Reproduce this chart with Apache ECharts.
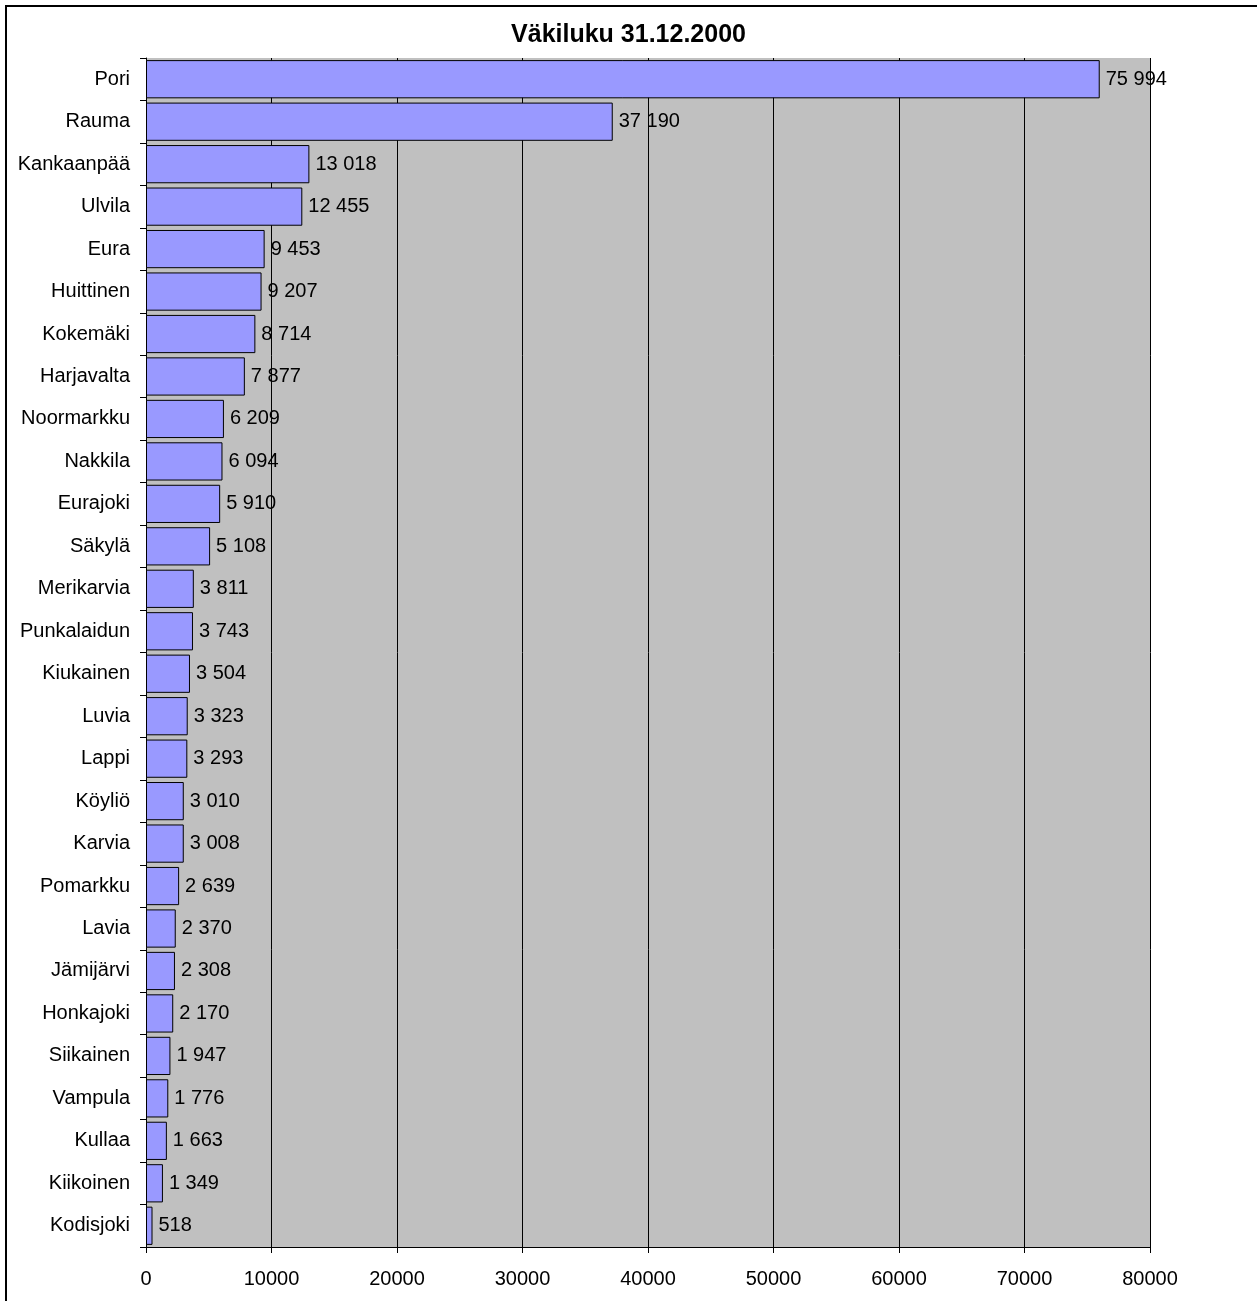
<!DOCTYPE html>
<html><head><meta charset="utf-8">
<script src="https://cdn.jsdelivr.net/npm/echarts@6/dist/echarts.min.js"></script>
<style>html,body{margin:0;padding:0;background:#fff}#c{width:1257px;height:1301px}</style>
</head><body><div id="c"></div>
<script>
const categories = ["Pori","Rauma","Kankaanpää","Ulvila","Eura","Huittinen","Kokemäki","Harjavalta","Noormarkku","Nakkila","Eurajoki","Säkylä","Merikarvia","Punkalaidun","Kiukainen","Luvia","Lappi","Köyliö","Karvia","Pomarkku","Lavia","Jämijärvi","Honkajoki","Siikainen","Vampula","Kullaa","Kiikoinen","Kodisjoki"];
const values = [75994,37190,13018,12455,9453,9207,8714,7877,6209,6094,5910,5108,3811,3743,3504,3323,3293,3010,3008,2639,2370,2308,2170,1947,1776,1663,1349,518];
const xTicks = [0,10000,20000,30000,40000,50000,60000,70000,80000];
const titleText = "Väkiluku 31.12.2000";

const chart = echarts.init(document.getElementById('c'), null, {renderer:'canvas'});
const fmt = v => String(v).replace(/\B(?=(\d{3})+(?!\d))/g, ' ');
const FF = 'Liberation Sans, Arial, sans-serif';
chart.setOption({
  animation:false,
  textStyle:{fontFamily:FF},
  title:{text:titleText,left:'center',top:18,textStyle:{fontSize:25,fontWeight:'bold',color:'#000',fontFamily:FF}},
  graphic:[{type:'rect',shape:{x:6,y:6,width:1262,height:1310},style:{fill:null,stroke:'#000',lineWidth:2},silent:true,z:-1}],
  grid:{left:146,right:107,top:58,bottom:54,containLabel:false,show:true,backgroundColor:'#c0c0c0',borderWidth:0},
  xAxis:{type:'value',min:xTicks[0],max:xTicks[xTicks.length-1],interval:10000,
    axisLine:{show:true,lineStyle:{color:'#000',width:1}},
    axisTick:{show:true,length:6,lineStyle:{color:'#000'}},
    axisLabel:{color:'#000',fontSize:20,margin:22,formatter:v=>String(v)},
    splitLine:{show:true,lineStyle:{color:'#000',width:1}}},
  yAxis:{type:'category',data:categories,inverse:true,
    axisLine:{show:true,lineStyle:{color:'#000',width:1}},
    axisTick:{show:true,length:6,lineStyle:{color:'#000'}},
    axisLabel:{color:'#000',fontSize:20,margin:16}},
  series:[{type:'bar',data:values,barCategoryGap:'10%',
    itemStyle:{color:'#9999ff',borderColor:'#000',borderWidth:1},
    label:{show:true,position:'right',distance:6,color:'#000',fontSize:20,formatter:p=>fmt(p.value)}}]
});
</script></body></html>
